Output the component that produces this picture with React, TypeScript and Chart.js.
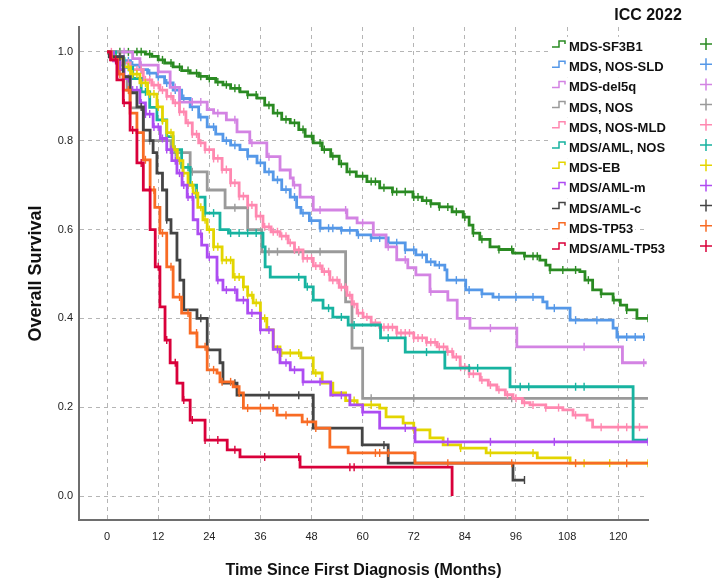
import React, { useEffect, useRef } from "react";
import { Chart, registerables } from "chart.js";

Chart.register(...registerables);

const FONT = "'Liberation Sans', Arial, sans-serif";

const X_TICKS = [0, 12, 24, 36, 48, 60, 72, 84, 96, 108, 120];
const Y_TICKS = [0, 0.2, 0.4, 0.6, 0.8, 1.0];

const NAMES = [
  "MDS-SF3B1",
  "MDS, NOS-SLD",
  "MDS-del5q",
  "MDS, NOS",
  "MDS, NOS-MLD",
  "MDS/AML, NOS",
  "MDS-EB",
  "MDS/AML-m",
  "MDS/AML-c",
  "MDS-TP53",
  "MDS/AML-TP53",
];

const COLORS = [
  "#2a8a22",
  "#5598e8",
  "#d383e3",
  "#9a9a9a",
  "#ff88b0",
  "#17b3a0",
  "#e3d500",
  "#ad4cf2",
  "#444444",
  "#f86b24",
  "#d9003a",
];

// Kaplan-Meier steps: [month, survival]
const sf3b1 = [[0,1],[9,0.995],[10.5,0.99],[12,0.982],[13.5,0.975],[15.5,0.966],[17.5,0.958],[19.5,0.952],[21.5,0.945],[23.5,0.94],[25.5,0.932],[27.2,0.926],[29,0.918],[31.2,0.91],[33,0.903],[35.2,0.896],[37,0.88],[39,0.862],[41,0.848],[43,0.84],[45,0.825],[46.5,0.81],[48.4,0.795],[50.5,0.78],[52.5,0.765],[54.5,0.748],[56.3,0.73],[58.5,0.72],[61,0.708],[64,0.694],[67,0.685],[71.8,0.673],[74,0.665],[76,0.658],[78,0.651],[81,0.64],[83.6,0.628],[85,0.61],[85.9,0.592],[87.5,0.578],[89.9,0.561],[92,0.555],[95.3,0.547],[98,0.54],[101.6,0.531],[103,0.52],[104,0.509],[111,0.505],[112.2,0.486],[114,0.464],[116,0.455],[118.8,0.441],[120.5,0.43],[122,0.419],[124.4,0.4]];
const sld = [[0,1],[2,0.99],[3.8,0.98],[5.5,0.97],[7.7,0.96],[9.5,0.952],[11.7,0.944],[13.5,0.93],[15.5,0.914],[17.5,0.895],[19.5,0.876],[21.5,0.853],[23.5,0.831],[25.5,0.815],[27.2,0.8],[29,0.79],[31.2,0.78],[33,0.765],[35.2,0.75],[37,0.73],[39,0.712],[41,0.69],[43,0.673],[44.5,0.65],[45.5,0.637],[47.5,0.62],[50,0.603],[55,0.598],[58.7,0.588],[62,0.581],[66,0.57],[70,0.554],[72.5,0.543],[75,0.527],[77,0.52],[79.3,0.509],[79.8,0.486],[84.2,0.464],[88,0.455],[90.6,0.448],[102.3,0.437],[103.3,0.423],[108.7,0.396],[118.8,0.378],[119.7,0.358]];
const del5q = [[0,1],[6,0.985],[7.7,0.97],[12,0.955],[14.8,0.92],[17,0.887],[23.5,0.87],[25,0.862],[28,0.847],[30.5,0.82],[33.5,0.795],[37.5,0.764],[40.6,0.734],[43,0.716],[43.7,0.7],[45.3,0.673],[48.4,0.644],[56.3,0.626],[58.7,0.615],[62.5,0.588],[65.5,0.561],[68,0.532],[70.6,0.514],[72.5,0.498],[75.8,0.46],[80,0.441],[82.2,0.4],[85.2,0.378],[96.2,0.336],[121,0.3]];
const nos = [[0,1],[3,0.97],[3.8,0.944],[4.7,0.914],[5.4,0.874],[8.5,0.8],[15,0.773],[19.5,0.73],[23.5,0.689],[27.7,0.649],[33,0.6],[36.3,0.55],[56,0.437],[57.5,0.333],[60,0.22]];
const mld = [[0,1],[1.5,0.985],[3,0.975],[5.4,0.96],[8.5,0.937],[10.5,0.925],[12.4,0.914],[14,0.9],[15.5,0.885],[17,0.865],[18.5,0.84],[20,0.815],[21.5,0.795],[23,0.78],[25,0.76],[27,0.735],[29,0.705],[31,0.675],[33,0.655],[35,0.63],[36.6,0.606],[38.5,0.595],[40.6,0.585],[42.5,0.57],[44,0.554],[46,0.535],[48.4,0.518],[50.5,0.505],[52.3,0.486],[54.5,0.47],[56.3,0.452],[57.5,0.432],[58.7,0.412],[60.1,0.403],[62,0.39],[64,0.38],[68,0.367],[72,0.356],[75,0.346],[77.5,0.336],[79.8,0.325],[81.2,0.313],[82.9,0.29],[85,0.275],[87.6,0.261],[89.5,0.25],[91.5,0.239],[93.5,0.228],[95.3,0.22],[97.5,0.21],[99.3,0.205],[103,0.199],[107,0.194],[109.4,0.182],[112.7,0.171],[114,0.155]];
const amlNos = [[0,1],[2,0.985],[4,0.965],[6,0.94],[8,0.91],[10,0.875],[11.7,0.847],[14,0.809],[15.5,0.78],[17.5,0.74],[19.5,0.7],[21,0.673],[23,0.637],[26.5,0.6],[28.5,0.592],[36.6,0.561],[37.1,0.516],[38.3,0.493],[46.5,0.471],[48.4,0.441],[50.7,0.423],[53,0.403],[56.6,0.385],[64.2,0.356],[70,0.324],[79.3,0.288],[94.6,0.246],[123.5,0.126]];
const eb = [[0,1],[1.5,0.985],[3.8,0.966],[5.5,0.95],[7.7,0.93],[9.5,0.905],[11.7,0.876],[13,0.845],[14,0.818],[15.5,0.78],[16.5,0.755],[17.8,0.727],[19,0.7],[20.2,0.682],[21.3,0.65],[22.5,0.622],[23.5,0.6],[25,0.561],[27,0.531],[29.6,0.493],[32,0.471],[33,0.452],[34.3,0.435],[36,0.4],[37.5,0.374],[39,0.336],[40.6,0.322],[45.5,0.311],[48.4,0.277],[50.5,0.254],[53,0.232],[56,0.215],[58.7,0.205],[64,0.198],[65.5,0.178],[69.5,0.164],[72,0.149],[75.8,0.131],[78.9,0.115],[83,0.108],[89,0.097],[101,0.086],[108.7,0.074]];
const amlM = [[0,1],[1.5,0.98],[3,0.96],[4,0.94],[5.4,0.914],[7.7,0.885],[9,0.86],[10.8,0.831],[12.5,0.805],[14,0.78],[15.2,0.755],[16.4,0.727],[17.6,0.7],[18.8,0.673],[20.2,0.622],[21.3,0.59],[22.2,0.565],[23.5,0.538],[25.8,0.486],[27.2,0.464],[30.5,0.441],[33,0.412],[36,0.374],[39,0.33],[40.6,0.3],[43,0.284],[46,0.257],[52.5,0.227],[57,0.205],[60,0.189],[64,0.153],[72.3,0.122]];
const amlC = [[0,1],[0.5,0.989],[3.8,0.944],[5.4,0.908],[7,0.876],[8.5,0.824],[10.1,0.8],[10.8,0.773],[11.7,0.727],[13,0.689],[14,0.622],[15,0.592],[16.4,0.531],[17.1,0.486],[18,0.419],[21.1,0.4],[23.5,0.329],[26.5,0.3],[27.2,0.254],[30.5,0.227],[48.4,0.153],[59.9,0.115],[66,0.074],[95.3,0.036]];
const tp53 = [[0,1],[1,0.982],[2.5,0.95],[3.8,0.914],[5.4,0.862],[7,0.818],[8.5,0.757],[10.1,0.689],[11.2,0.65],[12.4,0.592],[14,0.516],[15.5,0.448],[17.5,0.412],[19.5,0.367],[21.1,0.336],[23.5,0.284],[25.8,0.277],[26.5,0.257],[29.6,0.246],[31,0.232],[32,0.198],[39.9,0.182],[45.8,0.167],[49,0.153],[52.3,0.11],[56.6,0.097],[72.3,0.074]];
const amlTp53 = [[0,1],[0.8,0.982],[2.3,0.937],[3.8,0.885],[5.4,0.824],[7,0.75],[8.5,0.689],[10.1,0.6],[11.3,0.516],[12.4,0.426],[13.6,0.351],[14.8,0.3],[16.4,0.254],[17.8,0.216],[19.5,0.171],[23,0.126],[28.2,0.104],[31.2,0.088],[45.3,0.065],[81,0]];

const STEPS = [sf3b1, sld, del5q, nos, mld, amlNos, eb, amlM, amlC, tp53, amlTp53];
const END_TIMES = [127, 126.3, 126.7, 127, 127, 127, 127, 127, 98.1, 127, 81];

// censored observation times (months)
const CENSOR = [
  [3,5,7,8,10,13,15,17,19,21,22,24,26,28,30,31,33,35,38,40,42,44,46,48,50,51,53,55,57,60,62,63,65,67,68,70,72,73,75,76,78,80,82,84,86,88,92,95,98,100,101,104,107,110,113,116,119,122,127],
  [3,5,6,8,10,12,14,16,18,20,22,25,28,30,33,36,38,40,42,44,46,48,50,52,53,55,57,59,62,64,66,68,70,72,74,76,78,82,85,88,92,96,100,105,110,115,120,122,124,126],
  [4,8,12,16,20,22,26,30,34,38,44,50,56,60,66,70,76,90,112,126],
  [10,16,20,30,38,40,45,50,62,72,95],
  [1,2,3,4,5,6,7,8,9,10,11,12,13,14,15,16,17,18,19,20,21,22,23,24,25,26,27,28,29,30,31,32,33,34,35,36,37,38,39,40,41,42,43,44,45,46,47,48,49,50,51,52,53,54,55,56,57,58,59,60,61,62,63,64,65,66,67,68,69,70,71,72,73,74,75,76,77,78,79,80,81,82,83,84,85,86,88,90,92,94,96,98,100,103,106,110,116,120,122,125],
  [5,9,13,16,19,23,25,29,31,33,35,45,47,52,55,58,66,75,85,87,97,99,110,112],
  [2,3,4,5,6,7,8,9,10,11,12,13,14,15,16,17,18,19,20,21,22,23,24,25,26,27,28,29,30,31,32,33,34,35,37,39,41,43,45,49,53,58,62,72,83,90,100,112,118,127],
  [2,3,4,5,6,7,8,9,10,11,12,13,14,15,16,17,18,19,20,22,24,26,28,30,32,34,36,38,40,42,44,46,50,55,60,70,80,90,105,127],
  [3,8,14,22,30,38,45,65,98],
  [3,5,7,9,11,13,15,17,19,21,23,25,27,29,31,33,36,39,42,47,49,63,64,66,80,95,110,122],
  [2,4,6,8,10,12,14,16,18,20,23,26,30,37,45,57,58],
];

function survivalAt(steps: number[][], t: number) {
  let s = 1;
  for (const [tt, v] of steps) {
    if (tt <= t) s = v;
    else break;
  }
  return s;
}

const legendPlugin = {
  id: "customLegend",
  afterDraw(chart: any) {
    const ctx = chart.ctx as CanvasRenderingContext2D;
    ctx.save();
    // title
    ctx.font = `bold 16px ${FONT}`;
    ctx.fillStyle = "#111";
    ctx.textAlign = "center";
    ctx.textBaseline = "middle";
    ctx.fillText("ICC 2022", 648, 16);

    const row0 = 47;
    const rowH = 20.2;
    ctx.font = `bold 13px ${FONT}`;
    ctx.textAlign = "left";
    NAMES.forEach((name, i) => {
      const y = row0 + i * rowH;
      const w = ctx.measureText(name).width;
      ctx.fillStyle = "#ffffff";
      ctx.fillRect(548, y - rowH / 2, 569 - 548 + w + 2, rowH);
      ctx.strokeStyle = COLORS[i];
      ctx.lineWidth = 1.5;
      ctx.beginPath();
      ctx.moveTo(552, y);
      ctx.lineTo(559, y);
      ctx.lineTo(559, y - 6);
      ctx.lineTo(565, y - 6);
      ctx.lineTo(565, y - 3);
      ctx.stroke();
      ctx.fillStyle = "#111";
      ctx.fillText(name, 569, y + 0.5);
      // plus marker
      const py = y - 3;
      ctx.beginPath();
      ctx.moveTo(700, py);
      ctx.lineTo(712, py);
      ctx.moveTo(706, py - 6);
      ctx.lineTo(706, py + 6);
      ctx.stroke();
    });
    ctx.restore();
  },
};

export default function App() {
  const ref = useRef<HTMLCanvasElement | null>(null);

  useEffect(() => {
    document.body.style.margin = "0";
    const canvas = ref.current;
    if (!canvas) return;

    const datasets: any[] = [];
    // draw order: first dataset ends up on top, so push in reverse
    for (let i = NAMES.length - 1; i >= 0; i--) {
      const steps = STEPS[i];
      const last = steps[steps.length - 1][1];
      const lineData = steps.map(([t, s]) => ({ x: t, y: s }));
      lineData.push({ x: END_TIMES[i], y: last });
      datasets.push({
        label: NAMES[i],
        data: lineData,
        borderColor: COLORS[i],
        borderWidth: 2.8,
        stepped: "before",
        pointRadius: 0,
        fill: false,
        order: NAMES.length - i,
      });
      datasets.push({
        label: NAMES[i] + " censored",
        data: CENSOR[i].map((t) => ({ x: t, y: survivalAt(steps, t) })),
        showLine: false,
        pointStyle: "line",
        rotation: 90,
        pointRadius: 4,
        pointBorderWidth: 1.4,
        borderColor: COLORS[i],
        pointBorderColor: COLORS[i],
        backgroundColor: COLORS[i],
        order: NAMES.length - i,
      });
    }

    const chart = new Chart(canvas, {
      type: "line",
      data: { datasets },
      options: {
        animation: false,
        responsive: false,
        maintainAspectRatio: false,
        devicePixelRatio: 1,
        layout: { padding: { left: 0, right: 76, top: 27, bottom: 0 } },
        plugins: {
          legend: { display: false },
          tooltip: { enabled: false },
          title: { display: false },
        },
        scales: {
          x: {
            type: "linear",
            min: -6.6,
            max: 127,
            afterBuildTicks: (s: any) => {
              s.ticks = X_TICKS.map((v) => ({ value: v }));
            },
            afterFit: (s: any) => {
              s.height = 60;
            },
            grid: { color: "#b5b5b5", lineWidth: 1, drawTicks: false },
            border: { color: "#6e6e6e", width: 2, dash: [4, 4] },
            ticks: {
              padding: 10,
              color: "#222",
              font: { family: FONT, size: 11 },
              callback: (v: any) => String(v),
            },
            title: {
              display: true,
              text: "Time Since First Diagnosis (Months)",
              color: "#111",
              font: { family: FONT, size: 16, weight: "bold" },
              padding: { top: 0, bottom: 0 },
            },
          },
          y: {
            type: "linear",
            min: -0.054,
            max: 1.056,
            afterBuildTicks: (s: any) => {
              s.ticks = Y_TICKS.map((v) => ({ value: v }));
            },
            afterFit: (s: any) => {
              s.width = 79;
            },
            grid: { color: "#b5b5b5", lineWidth: 1, drawTicks: false },
            border: { color: "#6e6e6e", width: 2, dash: [4, 4] },
            ticks: {
              padding: 6,
              color: "#222",
              font: { family: FONT, size: 11 },
              callback: (v: any) => Number(v).toFixed(1),
            },
            title: {
              display: true,
              text: "Overall Survival",
              color: "#111",
              font: { family: FONT, size: 18, weight: "bold" },
              padding: { top: 25, bottom: 0 },
            },
          },
        },
      },
      plugins: [legendPlugin],
    } as any);

    return () => chart.destroy();
  }, []);

  return (
    <div style={{ position: "fixed", left: 0, top: 0, width: 724, height: 580, background: "#fff" }}>
      <canvas ref={ref} width={724} height={580} style={{ display: "block" }} />
    </div>
  );
}
